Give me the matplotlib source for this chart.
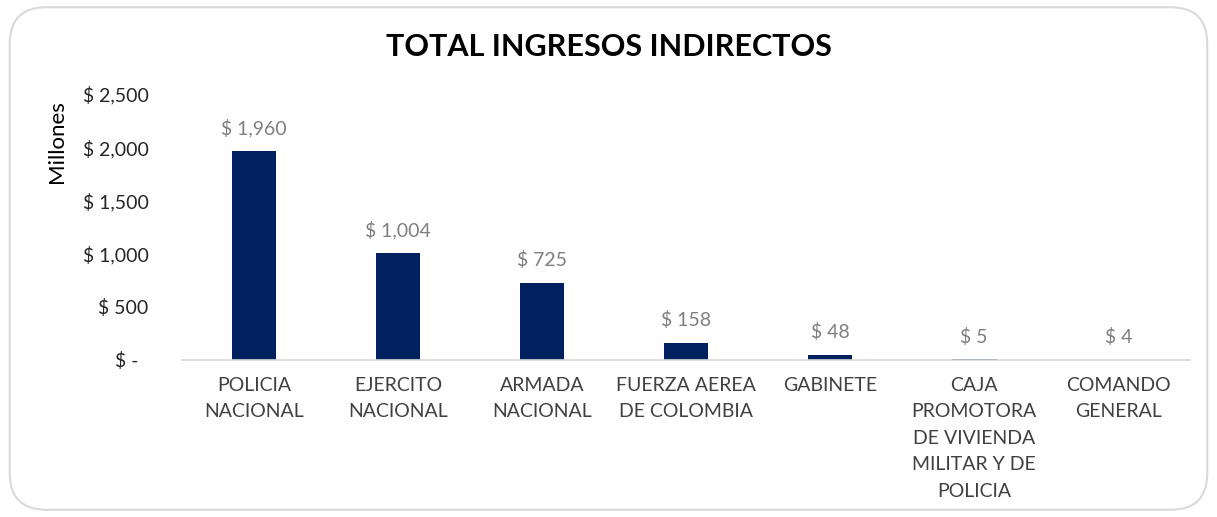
import matplotlib.pyplot as plt
from matplotlib.patches import FancyBboxPatch
from matplotlib.ticker import FuncFormatter

plt.rcParams['font.family'] = ['Lato', 'DejaVu Sans']

categories = ["POLICIA\nNACIONAL", "EJERCITO\nNACIONAL", "ARMADA\nNACIONAL",
              "FUERZA AEREA\nDE COLOMBIA", "GABINETE",
              "CAJA\nPROMOTORA\nDE VIVIENDA\nMILITAR Y DE\nPOLICIA",
              "COMANDO\nGENERAL"]
values = [1960, 1004, 725, 158, 48, 5, 4]
yticks = [0, 500, 1000, 1500, 2000, 2500]


def money(v, pos=None):
    if v == 0:
        return "$ -  "
    return f"$ {v:,.0f}"


if __name__ == '__main__':
    fig = plt.figure(figsize=(12.17, 5.17), dpi=100)

    # rounded chart border
    border = FancyBboxPatch((0.008, 0.014), 0.984, 0.972,
                            boxstyle="round,pad=0,rounding_size=0.03",
                            transform=fig.transFigure, facecolor="white",
                            edgecolor="#d9d9d9", linewidth=1.5,
                            mutation_aspect=1217 / 517, zorder=-5)
    fig.patches.append(border)

    ax = fig.add_axes([0.1496, 0.3037, 0.8284, 0.5145])
    ax.patch.set_alpha(0)

    x = range(len(categories))
    ax.bar(x, values, width=0.31, color="#002060")
    for xi, v in zip(x, values):
        ax.annotate(money(v), (xi, v), xytext=(0, 10), textcoords="offset points",
                    ha="center", va="bottom", fontsize=14, color="#7f7f7f")

    ax.set_xlim(-0.5, len(categories) - 0.5)
    ax.set_ylim(0, 2500)
    ax.set_yticks(yticks)
    ax.yaxis.set_major_formatter(FuncFormatter(money))
    ax.set_xticks(list(x))
    ax.set_xticklabels(categories, fontsize=14, color="#404040", linespacing=1.68,
                       va="top")
    ax.tick_params(axis="y", length=0, pad=24, labelsize=14, labelcolor="#262626")
    ax.tick_params(axis="x", length=0, pad=12)

    for side in ["top", "right", "left"]:
        ax.spines[side].set_visible(False)
    ax.spines["bottom"].set_color("#d9d9d9")
    ax.spines["bottom"].set_linewidth(1.2)

    fig.text(0.5, 1 - 47 / 517, "TOTAL INGRESOS INDIRECTOS", ha="center", va="center",
             fontsize=22, fontweight="bold", color="black")
    fig.text(57 / 1217, 1 - 142 / 517, "Millones", rotation=90, ha="center", va="center",
             fontsize=16, color="black")

    fig.savefig("out.png", dpi=100)
